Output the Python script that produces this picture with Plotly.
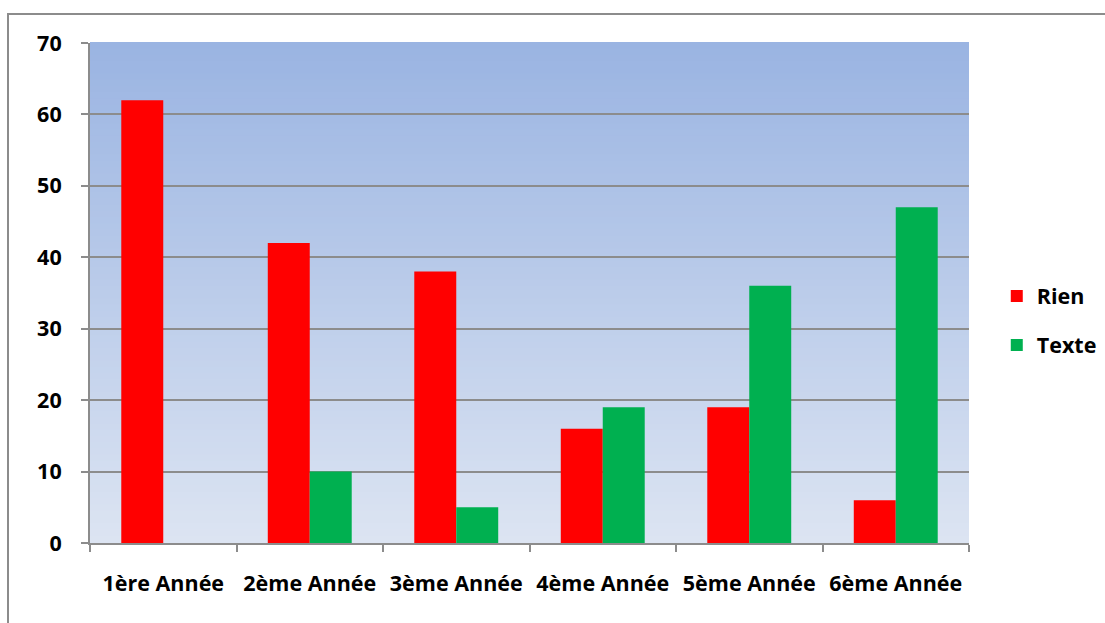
import plotly.graph_objects as go

# Data
classes = ["1ère Année", "2ème Année", "3ème Année", "4ème Année", "5ème Année", "6ème Année"]
rien = [62, 42, 38, 16, 19, 6]
texte = [0, 10, 5, 19, 36, 47]
y_ticks = [0, 10, 20, 30, 40, 50, 60, 70]

FONT = "Open Sans"
FS = 21.5

fig = go.Figure()
fig.add_trace(go.Bar(name="Rien", x=classes, y=rien, marker_color="#FF0000",
                     marker_line_width=0, legendgroup="a"))
fig.add_trace(go.Bar(name="Texte", x=classes, y=texte, marker_color="#00B050",
                     marker_line_width=0, legendgroup="b"))

# Vertical gradient behind the plot area, built from thin bands
top = (154, 180, 226)
bot = (220, 228, 242)
n = 80
shapes = []
for i in range(n):
    t = i / (n - 1)
    c = tuple(round(top[k] + (bot[k] - top[k]) * t) for k in range(3))
    shapes.append(dict(type="rect", xref="x domain", yref="y domain",
                       x0=0, x1=1, y0=1 - (i + 1) / n, y1=1 - i / n + 0.002,
                       fillcolor="rgb(%d,%d,%d)" % c, line_width=0, layer="below"))

# Outer chart frame
W, H = 1105, 623
ml, mr, mt, mb = 90, 136, 43, 80
pw, ph = W - ml - mr, H - mt - mb
fx0 = (8 - ml) / pw
fx1 = (W + 10 - ml) / pw
fy1 = (H - mb - 14) / ph
fy0 = (H - mb - (H + 10)) / ph
shapes.append(dict(type="rect", xref="paper", yref="paper",
                   x0=fx0, x1=fx1, y0=fy0, y1=fy1,
                   line=dict(color="#8C8C8C", width=2), fillcolor="rgba(0,0,0,0)",
                   layer="above"))

fig.update_layout(
    width=W, height=H,
    margin=dict(l=ml, r=mr, t=mt, b=mb, autoexpand=False),
    paper_bgcolor="white",
    plot_bgcolor="rgba(0,0,0,0)",
    barmode="group",
    bargap=0.427,
    bargroupgap=0,
    shapes=shapes,
    font=dict(family=FONT, color="black"),
    legend=dict(x=1.0316, xanchor="left", y=0.445, yanchor="middle",
                font=dict(family=FONT, size=FS, color="black", weight="bold"),
                tracegroupgap=18, bgcolor="rgba(0,0,0,0)"),
    showlegend=True,
)

fig.update_xaxes(
    showline=True, linecolor="#8C8C8C", linewidth=2,
    ticks="outside", tickson="boundaries", ticklen=7, tickcolor="#8C8C8C", tickwidth=2,
    tickfont=dict(family=FONT, size=FS, color="black", weight="bold"),
    ticklabelstandoff=20,
    showgrid=False,
)
fig.update_yaxes(
    range=[0, 70], tickvals=y_ticks,
    showline=True, linecolor="#8C8C8C", linewidth=2,
    ticks="outside", ticklen=7, tickcolor="#8C8C8C", tickwidth=2,
    tickfont=dict(family=FONT, size=FS, color="black", weight="bold"),
    ticklabelstandoff=15,
    showgrid=True, gridcolor="#8C8C8C", gridwidth=1.5,
    zeroline=False,
)

fig.write_html("out.html")
